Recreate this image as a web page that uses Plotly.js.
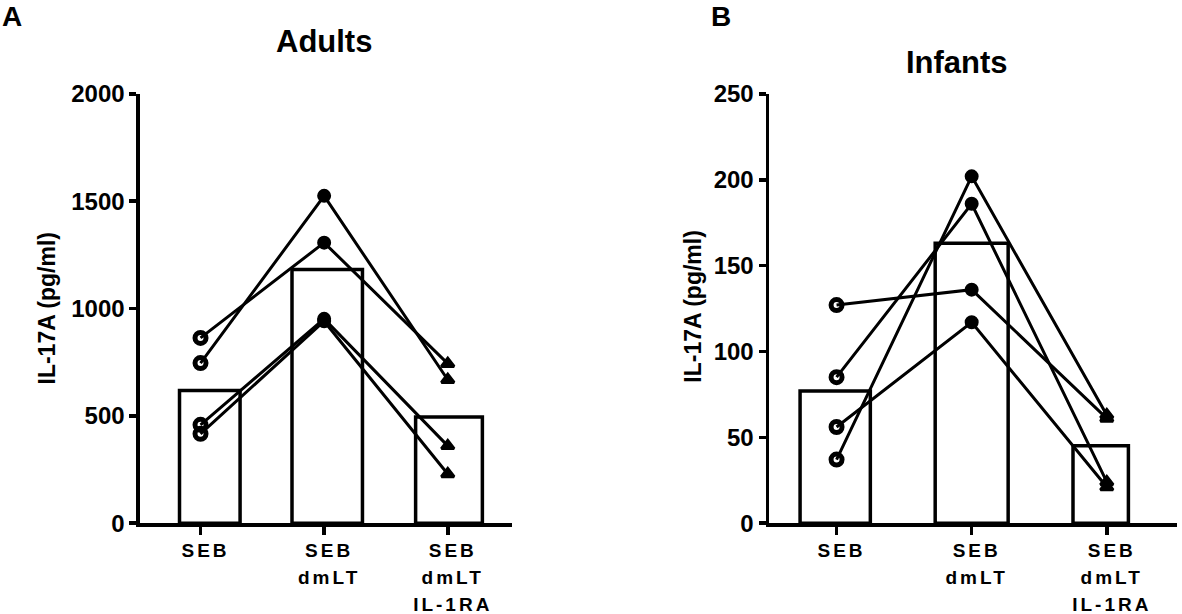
<!DOCTYPE html>
<html>
<head>
<meta charset="utf-8">
<script src="https://cdn.plot.ly/plotly-3.0.1.min.js"></script>
<style>
  html, body { margin: 0; padding: 0; background: #fff; }
  #chart { width: 1182px; height: 614px; }
  .xtick text, .x2tick text { letter-spacing: 3px; }
</style>
</head>
<body>
<div id="chart"></div>
<script>
// x categories
const catPos = [0, 1, 2];
const catLabels = ['SEB', 'SEB<br>dmLT', 'SEB<br>dmLT<br>IL-1RA'];

// Adults: bar = mean, one line per donor
const adultsMean = [618, 1182, 494];
const adultSEB = [863, 746, 458, 416];
const adultDmLT = [1307, 1525, 952, 941];
const adultIL1RA = [743, 668, 360, 229];

// Infants
const infantsMean = [77, 163, 45];
const infantSEB = [127, 85, 56, 37];
const infantDmLT = [136, 186, 117, 202];
const infantIL1RA = [61, 24, 21, 63];

// bar geometry (as drawn in the original figure)
const adultBarOffset = [-0.17, -0.26, -0.26];
const adultBarWidth = [0.49, 0.57, 0.54];
const infantBarOffset = [-0.27, -0.27, -0.25];
const infantBarWidth = [0.52, 0.54, 0.41];

const FONT = 'Liberation Sans, Arial, Helvetica, sans-serif';
const symbols = ['circle-open', 'circle', 'triangle-up'];
const symbolSize = [11, 11, 11];
const symbolLine = [5, 3, 3];

function barTrace(y, offset, width, xa, ya) {
  return {
    type: 'bar', x: catPos, y: y, offset: offset, width: width,
    xaxis: xa, yaxis: ya,
    marker: {color: 'rgba(255,255,255,0)', line: {color: '#000', width: 3.5}},
    hoverinfo: 'y', showlegend: false
  };
}

function donorTraces(seb, dmlt, ilra, xa, ya) {
  return seb.map((v, i) => ({
    type: 'scatter', mode: 'lines+markers',
    x: catPos, y: [v, dmlt[i], ilra[i]],
    xaxis: xa, yaxis: ya,
    line: {color: '#000', width: 3},
    marker: {
      symbol: symbols, size: symbolSize, opacity: 1, color: '#000',
      line: {color: '#000', width: symbolLine}
    },
    showlegend: false
  }));
}

const data = [
  barTrace(adultsMean, adultBarOffset, adultBarWidth, 'x', 'y'),
  ...donorTraces(adultSEB, adultDmLT, adultIL1RA, 'x', 'y'),
  barTrace(infantsMean, infantBarOffset, infantBarWidth, 'x2', 'y2'),
  ...donorTraces(infantSEB, infantDmLT, infantIL1RA, 'x2', 'y2')
];

const xCommon = {
  tickmode: 'array', tickvals: catPos, ticktext: catLabels,
  showline: true, linecolor: '#000', linewidth: 3.5,
  ticks: 'outside', ticklen: 8, tickwidth: 3.5, tickcolor: '#000',
  ticklabelshift: 5,
  tickfont: {family: FONT, size: 19, weight: 'bold', color: '#000'},
  showgrid: false, zeroline: false, fixedrange: true
};
const yCommon = {
  showline: true, linecolor: '#000', linewidth: 3.5,
  ticks: 'outside', ticklen: 7, tickwidth: 3.5, tickcolor: '#000',
  tickfont: {family: FONT, size: 24, weight: 'bold', color: '#000'},
  showgrid: false, zeroline: false, fixedrange: true,
  domain: [0.148, 0.847]
};

function note(text, x, y, size, angle) {
  return {
    text: text, xref: 'paper', yref: 'paper', x: x, y: y,
    xanchor: 'center', yanchor: 'middle', showarrow: false,
    textangle: angle || 0,
    font: {family: FONT, size: size, weight: 'bold', color: '#000'}
  };
}

const layout = {
  width: 1182, height: 614,
  margin: {l: 0, r: 0, t: 0, b: 0},
  paper_bgcolor: '#fff', plot_bgcolor: 'rgba(0,0,0,0)',
  showlegend: false,
  xaxis: Object.assign({}, xCommon, {domain: [0.1184, 0.4332], range: [-0.49, 2.52], anchor: 'y'}),
  yaxis: Object.assign({}, yCommon, {range: [0, 2000], dtick: 500, anchor: 'x'}),
  xaxis2: Object.assign({}, xCommon, {domain: [0.6506, 0.9958], range: [-0.5, 2.52], anchor: 'y2'}),
  yaxis2: Object.assign({}, yCommon, {range: [0, 250], dtick: 50, anchor: 'x2'}),
  annotations: [
    note('A', 0.01, 0.973, 28),
    note('B', 0.61, 0.973, 28),
    note('Adults', 0.274, 0.932, 31),
    note('Infants', 0.81, 0.899, 31),
    note('IL-17A (pg/ml)', 0.04, 0.498, 23, -90),
    note('IL-17A (pg/ml)', 0.586, 0.5, 23, -90)
  ]
};

Plotly.newPlot('chart', data, layout, {displayModeBar: false, staticPlot: true}).then(() => {
  // widen the gap between the lines of the category labels
  document.querySelectorAll('.xtick text, .x2tick text').forEach(t => {
    t.querySelectorAll('tspan.line').forEach((s, i) => {
      if (i > 0) s.setAttribute('dy', (i * 1.42) + 'em');
    });
  });
});
</script>
</body>
</html>
